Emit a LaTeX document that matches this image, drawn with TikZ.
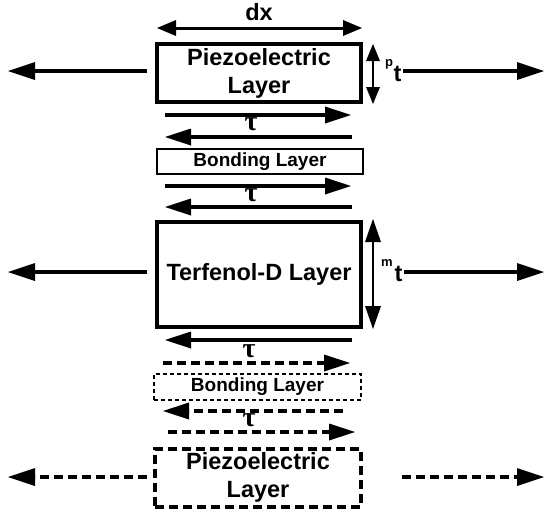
\documentclass[tikz,border=0pt]{standalone}
\usepackage{fontspec}
\setmainfont{Liberation Sans}
\newfontfamily\taufont{Liberation Serif}
\usetikzlibrary{arrows.meta}
\tikzset{
  layer/.style={draw, line width=4pt, inner sep=0pt, align=center,
    font=\bfseries\fontsize{23.5}{28}\selectfont},
  bondlayer/.style={draw, line width=2pt, inner sep=0pt,
    font=\bfseries\fontsize{19}{22}\selectfont},
  force/.style={line width=4.5pt, -{Triangle[length=27pt,width=18pt,line width=0pt]}},
  shear/.style={line width=4pt, -{Triangle[length=26pt,width=17pt,line width=0pt]}},
  ghost/.style={dash pattern=on 9pt off 5pt},
  taulabel/.style={font=\taufont\bfseries\fontsize{28}{28}\selectfont, inner sep=0pt},
  lbl/.style={font=\bfseries\fontsize{23.5}{26}\selectfont, inner sep=0pt},
  sup/.style={font=\bfseries\fontsize{13}{13}\selectfont, inner sep=0pt}
}
\begin{document}
\begin{tikzpicture}[x=1pt,y=-1pt]
\useasboundingbox (0,0) rectangle (548,512);

% layers
\node[layer, minimum width=204pt, minimum height=58pt] (pz1) at (259,73) {Piezoelectric\\Layer};
\node[bondlayer, minimum width=206pt, minimum height=25pt] (bd1) at (260,161.5) {Bonding Layer};
\node[layer, minimum width=204pt, minimum height=105pt] (tf) at (259,274.5) {Terfenol-D Layer};
\node[bondlayer, line width=2.5pt, dash pattern=on 4pt off 3pt, minimum width=207pt, minimum height=26pt] (bd2) at (257.5,387) {Bonding Layer};
\node[layer, ghost, minimum width=206pt, minimum height=58pt] (pz2) at (258,477.5) {Piezoelectric\\Layer};

% width dimension
\coordinate (dxl) at (157,28);
\coordinate (dxr) at (362,28);
\draw[line width=3pt, {Triangle[length=19pt,width=16pt,line width=0pt]}-{Triangle[length=19pt,width=16pt,line width=0pt]}] (dxl) -- (dxr);
\node[lbl] (dx) at (259,12) {dx};

% thickness dimensions
\coordinate (pta) at (373,44);
\coordinate (ptb) at (373,104);
\draw[line width=2pt, {Triangle[length=17pt,width=14pt,line width=0pt]}-{Triangle[length=17pt,width=14pt,line width=0pt]}] (pta) -- (ptb);
\node[sup] (ps) at (389,64) {p};
\node[lbl] (pt) at (397.5,74) {t};
\coordinate (mta) at (373,219);
\coordinate (mtb) at (373,329);
\draw[line width=2pt, {Triangle[length=23pt,width=16pt,line width=0pt]}-{Triangle[length=23pt,width=16pt,line width=0pt]}] (mta) -- (mtb);
\node[sup] (ms) at (387,263) {m};
\node[lbl] (mt) at (398.5,274) {t};

% in-plane forces
\coordinate (f1a) at (147,71);  \coordinate (f1l) at (8,71);
\coordinate (f1b) at (403,71);  \coordinate (f1r) at (544,71);
\coordinate (f2a) at (147,272); \coordinate (f2l) at (8,272);
\coordinate (f2b) at (404,272); \coordinate (f2r) at (544,272);
\coordinate (f3a) at (147,477); \coordinate (f3l) at (8,477);
\coordinate (f3b) at (402,477); \coordinate (f3r) at (544,477);
\draw[force] (f1a) -- (f1l);
\draw[force] (f1b) -- (f1r);
\draw[force] (f2a) -- (f2l);
\draw[force] (f2b) -- (f2r);
\draw[force, ghost] (f3a) -- (f3l);
\draw[force, ghost] (f3b) -- (f3r);

% shear stresses
\coordinate (s1a) at (165,115); \coordinate (s1b) at (351,115);
\coordinate (s2a) at (352,137); \coordinate (s2b) at (165,137);
\coordinate (s3a) at (165,186); \coordinate (s3b) at (351,186);
\coordinate (s4a) at (352,207); \coordinate (s4b) at (165,207);
\coordinate (s5a) at (352,340); \coordinate (s5b) at (165,340);
\coordinate (s6a) at (163,363); \coordinate (s6b) at (350,363);
\coordinate (s7a) at (343,411); \coordinate (s7b) at (163,411);
\coordinate (s8a) at (168,432); \coordinate (s8b) at (355,432);
\draw[shear] (s1a) -- (s1b);
\draw[shear] (s2a) -- (s2b);
\draw[shear] (s3a) -- (s3b);
\draw[shear] (s4a) -- (s4b);
\draw[shear] (s5a) -- (s5b);
\draw[shear, ghost] (s6a) -- (s6b);
\draw[shear, ghost] (s7a) -- (s7b);
\draw[shear, ghost] (s8a) -- (s8b);
\node[taulabel] (t1) at (251,124) {τ};
\node[taulabel] (t2) at (251,195) {τ};
\node[taulabel] (t3) at (249,351) {τ};
\node[taulabel] (t4) at (249,420) {τ};
\end{tikzpicture}
\end{document}
